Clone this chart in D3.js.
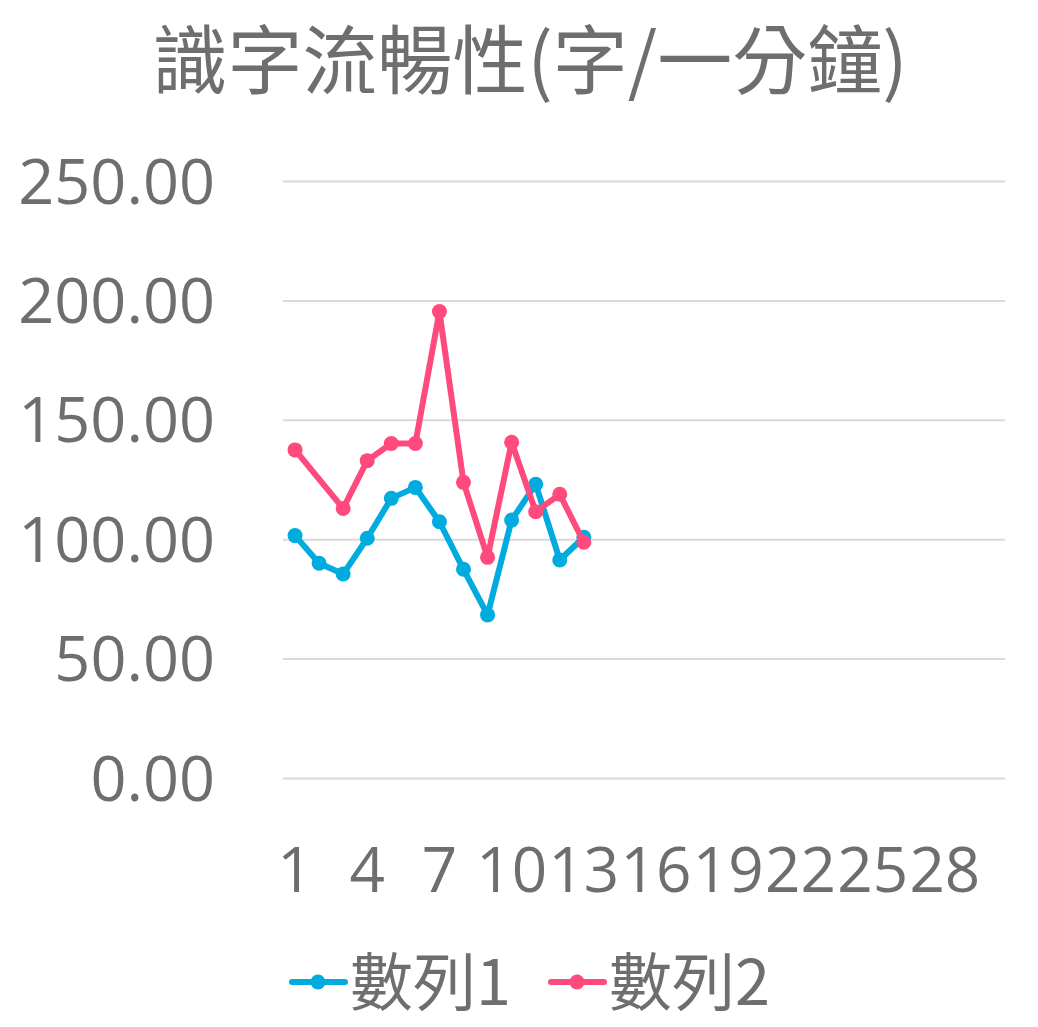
<!DOCTYPE html>
<html>
<head>
<meta charset="utf-8">
<title>識字流暢性</title>
<script src="https://cdn.jsdelivr.net/npm/d3@7"></script>
<style>
  body { margin: 0; background: #fff; }
  text { font-family: "Open Sans", "Noto Sans", sans-serif; fill: #6e6e6e; }
  .cjk { font-family: "Noto Sans CJK TC", "Noto Sans CJK SC", sans-serif; }
</style>
</head>
<body>
<script>
// ---- data ----
var categories = d3.range(1, 31);                 // 1 .. 30
var tickLabels = [1, 4, 7, 10, 13, 16, 19, 22, 25, 28];
var yTicks = [0, 50, 100, 150, 200, 250];
var seriesNames = ["數列1", "數列2"];
var series1 = [101.5, 89.9, 85.4, 100.4, 117.1, 121.7, 107.3, 87.4, 68.3, 108.0, 123.0, 91.3, 100.8];
var series2 = [137.4, null, 112.9, 132.9, 140.1, 140.1, 195.3, 123.8, 92.4, 140.6, 111.5, 118.8, 98.7];
var colors = ["#00abe0", "#ff4a7e"];

// ---- layout ----
var W = 1038, H = 1027;
var margin = {top: 181, right: 33, bottom: 249, left: 283};
var width = W - margin.left - margin.right;
var height = H - margin.top - margin.bottom;

var svg = d3.select("body").append("svg")
    .attr("width", W)
    .attr("height", H);

svg.append("text")
    .attr("class", "cjk")
    .attr("x", 530)
    .attr("y", 88)
    .attr("text-anchor", "middle")
    .attr("font-size", 75)
    .text("識字流暢性(字/一分鐘)");

var g = svg.append("g").attr("transform", "translate(" + margin.left + "," + margin.top + ")");

var x = d3.scaleBand().domain(categories).range([0, width]);
var y = d3.scaleLinear().domain([0, 250]).range([height, 0]);

// gridlines
g.append("g")
    .selectAll("line")
    .data(yTicks)
    .enter().append("line")
    .attr("x1", 0).attr("x2", width)
    .attr("y1", function(d) { return y(d) + 0.5; })
    .attr("y2", function(d) { return y(d) + 0.5; })
    .attr("stroke", "#d9d9d9")
    .attr("stroke-width", 2);

// y axis labels
var yAxis = g.append("g")
    .call(d3.axisLeft(y).tickValues(yTicks).tickSize(0).tickPadding(68).tickFormat(d3.format(".2f")));
yAxis.select(".domain").remove();
yAxis.selectAll("text").attr("font-size", 63).attr("font-family", null).attr("fill", null).attr("dy", "0.35em");

// x axis labels
var xAxis = g.append("g")
    .attr("transform", "translate(0," + height + ")")
    .call(d3.axisBottom(x).tickValues(tickLabels).tickSize(0).tickPadding(70));
xAxis.select(".domain").remove();
xAxis.selectAll("text").attr("font-size", 62).attr("font-family", null).attr("fill", null).attr("dy", "0.71em");

// lines
var line = d3.line()
    .x(function(d) { return x(d.cat) + x.bandwidth() / 2; })
    .y(function(d) { return y(d.value); });

[series1, series2].forEach(function(s, i) {
  var pts = s.map(function(v, j) { return {cat: categories[j], value: v}; })
             .filter(function(d) { return d.value !== null; });
  g.append("path")
      .datum(pts)
      .attr("fill", "none")
      .attr("stroke", colors[i])
      .attr("stroke-width", 6)
      .attr("stroke-linejoin", "round")
      .attr("stroke-linecap", "round")
      .attr("d", line);
  g.append("g")
      .selectAll("circle")
      .data(pts)
      .enter().append("circle")
      .attr("cx", function(d) { return x(d.cat) + x.bandwidth() / 2; })
      .attr("cy", function(d) { return y(d.value); })
      .attr("r", 7.5)
      .attr("fill", colors[i]);
});

// legend
var legend = svg.append("g").attr("transform", "translate(0,982)");
var legendX = [290, 549];
seriesNames.forEach(function(name, i) {
  var lg = legend.append("g").attr("transform", "translate(" + legendX[i] + ",0)");
  lg.append("line")
      .attr("x1", 2).attr("x2", 55)
      .attr("stroke", colors[i])
      .attr("stroke-width", 6)
      .attr("stroke-linecap", "round");
  lg.append("circle").attr("cx", 28).attr("r", 7.5).attr("fill", colors[i]);
  lg.append("text")
      .attr("class", "cjk")
      .attr("x", 60)
      .attr("y", 0)
      .attr("dy", "0.36em")
      .attr("font-size", 63)
      .text(name);
});
</script>
</body>
</html>
